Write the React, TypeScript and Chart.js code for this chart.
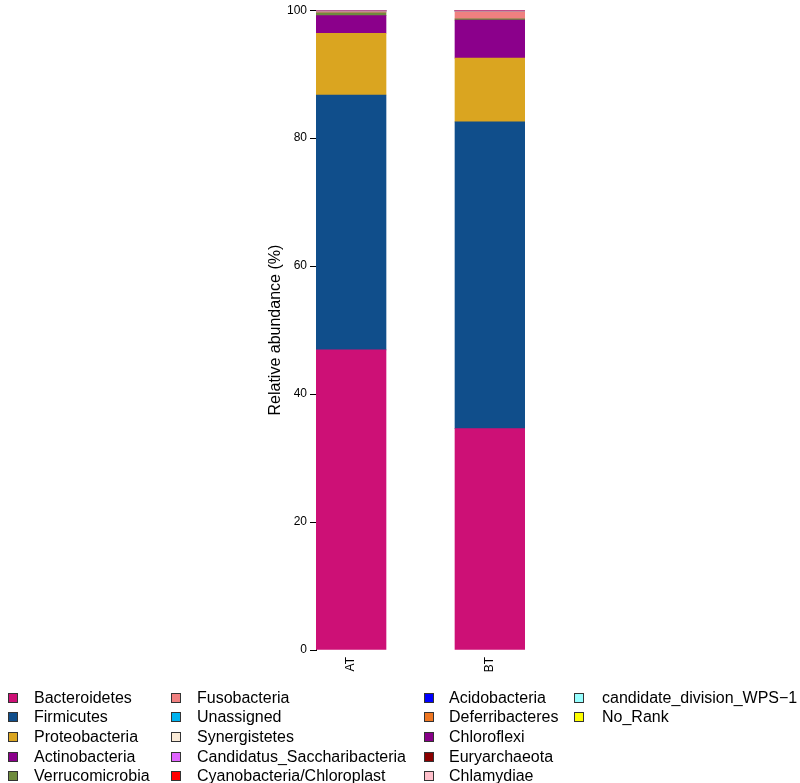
import React, { useEffect, useRef } from 'react';
import { Chart, registerables } from 'chart.js';

Chart.register(...registerables);

// ---- data ----
const samples = ['AT', 'BT'];

const phyla = [
  'Bacteroidetes',
  'Firmicutes',
  'Proteobacteria',
  'Actinobacteria',
  'Verrucomicrobia',
  'Fusobacteria',
  'Unassigned',
  'Synergistetes',
  'Candidatus_Saccharibacteria',
  'Cyanobacteria/Chloroplast',
  'Acidobacteria',
  'Deferribacteres',
  'Chloroflexi',
  'Euryarchaeota',
  'Chlamydiae',
  'candidate_division_WPS\u22121',
  'No_Rank',
];

const phylumColors = [
  '#CD1076',
  '#104E8B',
  '#DAA520',
  '#8B008B',
  '#6E8B3D',
  '#F08080',
  '#00B2EE',
  '#FAEBD7',
  '#E066FF',
  '#FF0000',
  '#0000FF',
  '#EE7621',
  '#880088',
  '#8B0000',
  '#FFC0CB',
  '#97FFFF',
  '#FFFF00',
];

const bacteroidetes = [46.9, 34.6];
const firmicutes = [39.85, 47.95];
const proteobacteria = [9.65, 9.95];
const actinobacteria = [2.75, 5.95];
const verrucomicrobia = [0.45, 0.2];
const fusobacteria = [0.2, 1.15];
const unassigned = [0.03, 0.03];
const synergistetes = [0.03, 0.03];
const saccharibacteria = [0.01, 0.02];
const cyanobacteria = [0.01, 0.02];
const acidobacteria = [0.01, 0.01];
const deferribacteres = [0.08, 0.03];
const chloroflexi = [0.01, 0.03];
const euryarchaeota = [0.005, 0.01];
const chlamydiae = [0.005, 0.01];
const wps1 = [0.005, 0.005];
const noRank = [0.03, 0.02];

const seriesValues = [
  bacteroidetes,
  firmicutes,
  proteobacteria,
  actinobacteria,
  verrucomicrobia,
  fusobacteria,
  unassigned,
  synergistetes,
  saccharibacteria,
  cyanobacteria,
  acidobacteria,
  deferribacteres,
  chloroflexi,
  euryarchaeota,
  chlamydiae,
  wps1,
  noRank,
];

const yTicks = [0, 20, 40, 60, 80, 100];

// ---- layout ----
const FONT = '"Liberation Sans", Arial, Helvetica, sans-serif';
const legendBoxX = [8, 171, 424, 574];
const legendTextX = [34, 197, 449, 602];
const legendTop = 697.5;
const legendRowStep = 19.7;
const legendPerCol = 5;

export default function App() {
  const canvasRef = useRef<HTMLCanvasElement | null>(null);

  useEffect(() => {
    const canvas = canvasRef.current;
    if (!canvas) return;
    const datasets = phyla.map((name, k) => ({
      label: name,
      data: samples.map((_, i) => ({ x: i, y: seriesValues[k][i] })),
      backgroundColor: phylumColors[k],
      borderWidth: 0,
      barThickness: 70,
    }));
    const chart = new Chart(canvas, {
      type: 'bar',
      data: { datasets },
      options: {
        animation: false,
        responsive: false,
        devicePixelRatio: 1,
        layout: { padding: { left: 0, top: 8, right: 275, bottom: 103 } },
        plugins: { legend: { display: false }, tooltip: { enabled: false } },
        scales: {
          x: {
            type: 'linear',
            stacked: true,
            offset: false,
            min: -0.2518,
            max: 1.2518,
            afterBuildTicks: (s: any) => {
              s.ticks = samples.map((_, i) => ({ value: i }));
            },
            afterFit: (s: any) => {
              s.height = 30;
            },
            ticks: {
              autoSkip: false,
              minRotation: 90,
              maxRotation: 90,
              padding: 7,
              color: '#000',
              font: { family: FONT, size: 12 },
              callback: (v: any) => samples[v] ?? '',
            },
            grid: { display: false, drawTicks: false, tickLength: 0 },
            border: { display: false },
          },
          y: {
            stacked: true,
            min: 0,
            max: 100,
            z: 1,
            afterBuildTicks: (s: any) => {
              s.ticks = yTicks.map((v) => ({ value: v }));
            },
            afterFit: (s: any) => {
              s.width = 316;
            },
            ticks: {
              padding: 3,
              color: '#000',
              font: { family: FONT, size: 12 },
            },
            grid: {
              drawOnChartArea: false,
              drawTicks: true,
              tickLength: 6,
              color: '#000',
            },
            border: { display: true, color: '#000', width: 1 },
            title: {
              display: true,
              text: 'Relative abundance (%)',
              color: '#000',
              font: { family: FONT, size: 16 },
              padding: { top: 266, bottom: 0 },
            },
          },
        },
      },
    });
    return () => chart.destroy();
  }, []);

  return (
    <div style={{ position: 'absolute', left: 0, top: 0, width: 800, height: 783, background: '#fff' }}>
      <canvas ref={canvasRef} width={800} height={783} style={{ display: 'block', width: 800, height: 783 }} />
      {phyla.map((name, i) => {
        const col = Math.floor(i / legendPerCol);
        const row = i % legendPerCol;
        const cy = legendTop + row * legendRowStep;
        return (
          <React.Fragment key={name}>
            <div
              style={{
                position: 'absolute',
                left: legendBoxX[col],
                top: cy - 5,
                width: 10,
                height: 10,
                boxSizing: 'border-box',
                border: '1px solid #333',
                background: phylumColors[i],
              }}
            />
            <div
              style={{
                position: 'absolute',
                left: legendTextX[col],
                top: cy - 10,
                height: 20,
                lineHeight: '20px',
                fontFamily: FONT,
                fontSize: 16,
                color: '#000',
                whiteSpace: 'nowrap',
              }}
            >
              {name}
            </div>
          </React.Fragment>
        );
      })}
    </div>
  );
}
